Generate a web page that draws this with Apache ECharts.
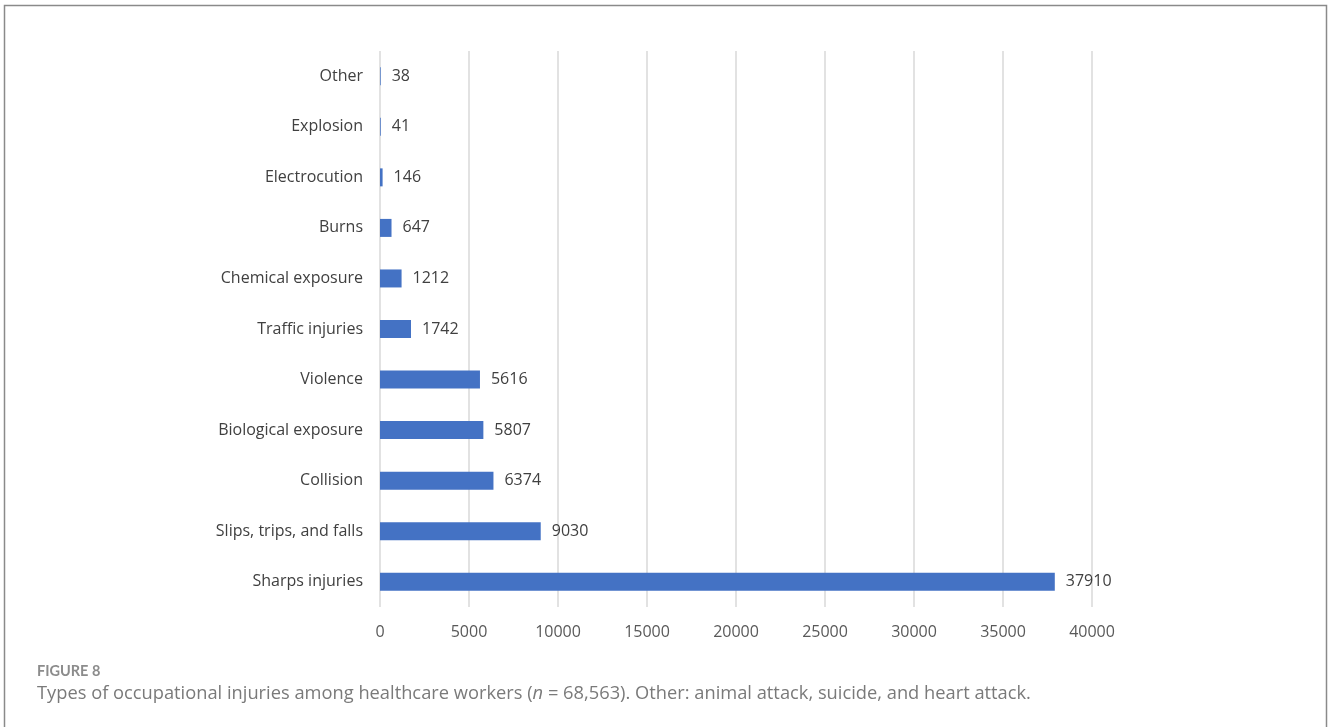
<!DOCTYPE html>
<html>
<head>
<meta charset="utf-8">
<script src="https://cdn.jsdelivr.net/npm/echarts@6/dist/echarts.min.js"></script>
<style>
  html, body { margin: 0; padding: 0; background: #fff; }
  #chart { width: 1328px; height: 727px; }
</style>
</head>
<body>
<div id="chart"></div>
<script>
// categories top to bottom as drawn
const categories = [
  'Other', 'Explosion', 'Electrocution', 'Burns', 'Chemical exposure',
  'Traffic injuries', 'Violence', 'Biological exposure', 'Collision',
  'Slips, trips, and falls', 'Sharps injuries'
]
const injuryCounts = [38, 41, 146, 647, 1212, 1742, 5616, 5807, 6374, 9030, 37910]
const xTicks = [0, 5000, 10000, 15000, 20000, 25000, 30000, 35000, 40000]

const barColor = '#4472C4'
const labelFont = 'Open Sans'

const chart = echarts.init(document.getElementById('chart'), null, { renderer: 'canvas' })

// echarts category axis runs bottom-up, so flip for horizontal bars
const yCats = categories.slice().reverse()
const yVals = injuryCounts.slice().reverse()

const captionStyle = { fontFamily: 'Open Sans', fontSize: 18.3, fontWeight: 'normal', color: '#7a7a7a' }

chart.setOption({
  animation: false,
  graphic: [{
    type: 'rect',
    shape: { x: 4.5, y: 5.5, width: 1322, height: 740 },
    style: { fill: 'none', stroke: '#8a8a8a', lineWidth: 1.5 },
    silent: true
  }],
  title: [{
    text: 'FIGURE 8',
    left: 37, top: 664, padding: 0,
    textStyle: { fontFamily: 'Lato', fontSize: 14.5, fontWeight: 'bold', color: '#8c8c8c' }
  }, {
    text: '{t|Types of occupational injuries among healthcare workers (}{i|n}{t| = 68,563). Other: animal attack, suicide, and heart attack.}',
    left: 37, top: 685, padding: 0,
    textStyle: {
      fontWeight: 'normal',
      rich: {
        t: captionStyle,
        i: Object.assign({}, captionStyle, { fontStyle: 'italic' })
      }
    }
  }],
  grid: {
    left: 380,
    right: 1328 - 1092,
    top: 51,
    bottom: 727 - 607,
    containLabel: false
  },
  xAxis: {
    type: 'value',
    min: xTicks[0],
    max: xTicks[xTicks.length - 1],
    interval: 5000,
    axisLine: { show: false },
    axisTick: { show: false },
    splitLine: { lineStyle: { color: '#d9d9d9', width: 1.5 } },
    axisLabel: {
      margin: 17,
      fontFamily: labelFont,
      fontSize: 16,
      color: '#595959',
      formatter: v => String(v)
    }
  },
  yAxis: {
    type: 'category',
    data: yCats,
    axisLine: { show: false },
    axisTick: { show: false },
    axisLabel: {
      margin: 17,
      fontFamily: labelFont,
      fontSize: 16,
      color: '#404040'
    }
  },
  series: [{
    type: 'bar',
    data: yVals,
    barWidth: 18,
    itemStyle: { color: barColor },
    label: {
      show: true,
      position: 'right',
      distance: 11,
      fontFamily: labelFont,
      fontSize: 16,
      color: '#404040'
    }
  }]
})
</script>
</body>
</html>
